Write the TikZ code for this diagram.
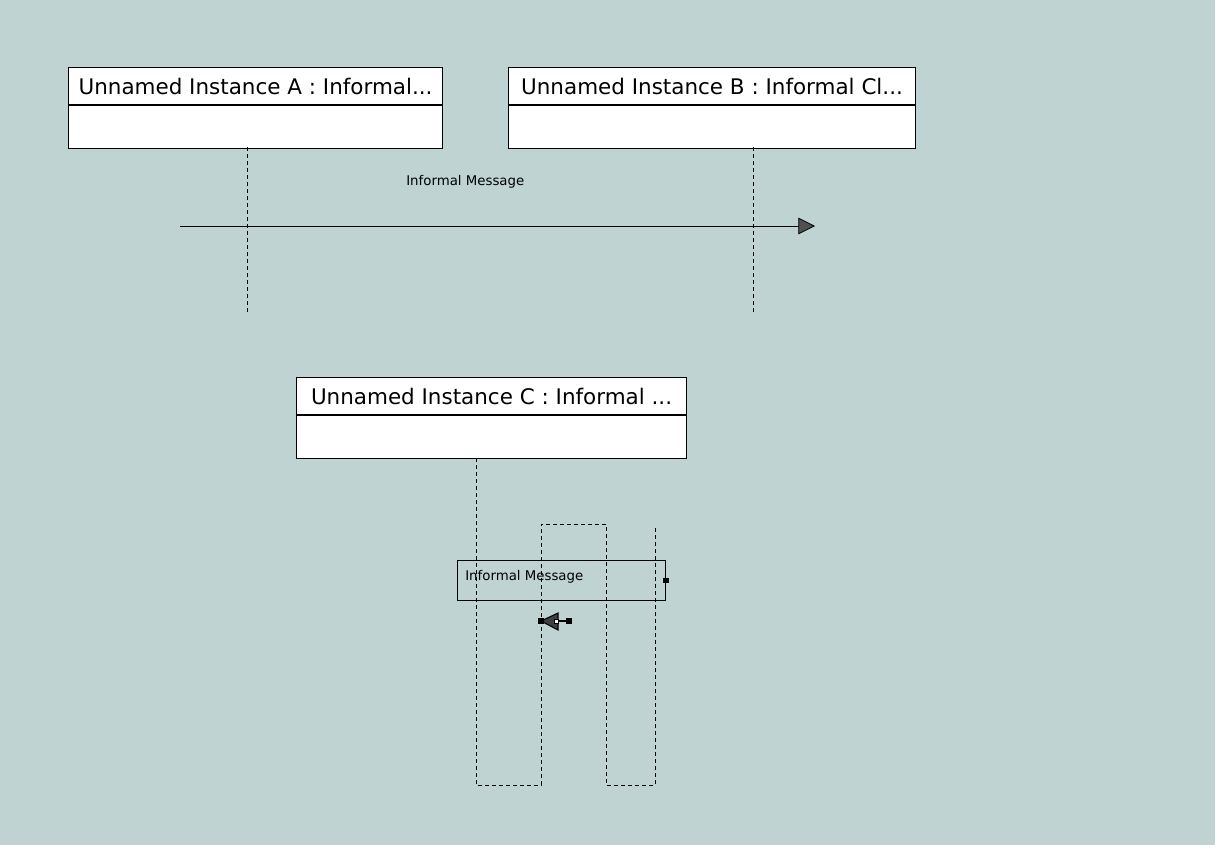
\documentclass[tikz,border=0pt]{standalone}
\usepackage{fontspec}
\setmainfont{DejaVu Sans}
\usetikzlibrary{arrows.meta, positioning}
\definecolor{canvas}{RGB}{190,211,210}
\definecolor{tipgray}{RGB}{80,80,80}

\begin{document}
\begin{tikzpicture}[x=0.75pt, y=-0.75pt,
    headbox/.style={draw, fill=white, line width=0.8pt, minimum height=27.75pt,
        inner sep=0pt, font=\fontsize{16.1}{18}\selectfont},
    bodybox/.style={draw, fill=white, line width=0.8pt, minimum height=32.25pt, inner sep=0pt},
    lifeline/.style={dash pattern=on 3pt off 2.25pt, line width=0.6pt},
    msgtext/.style={font=\fontsize{10}{12}\selectfont, anchor=west, inner sep=0pt},
    handle/.style={draw=black, fill=black, minimum size=3.5pt, inner sep=0pt}]

    % Canvas and margins
    \useasboundingbox (0,0) rectangle (1231,861);
    \fill[white] (0,0) rectangle (1231,861);
    \fill[canvas] (0,0) rectangle (1215,845);

    % Instance boxes
    \node[headbox, anchor=north west, minimum width=280.5pt] (headA) at (68,67) {Unnamed Instance A : Informal...};
    \node[bodybox, below=0pt of headA, minimum width=280.5pt] (bodyA) {};
    \node[headbox, anchor=north west, minimum width=305.25pt] (headB) at (508,67) {Unnamed Instance B : Informal Cl...};
    \node[bodybox, below=0pt of headB, minimum width=305.25pt] (bodyB) {};
    \node[headbox, anchor=north west, minimum width=292.5pt] (headC) at (296,377) {Unnamed Instance C : Informal ...};
    \node[bodybox, below=0pt of headC, minimum width=292.5pt] (bodyC) {};

    % Lifelines
    \coordinate (lifeAtop) at (247,147);
    \coordinate (lifeAend) at (247,312);
    \coordinate (lifeBtop) at (753,147);
    \coordinate (lifeBend) at (753,312);
    \draw[lifeline] (lifeAtop) -- (lifeAend);
    \draw[lifeline] (lifeBtop) -- (lifeBend);

    % Message from A to B
    \coordinate (msgfrom) at (180,226);
    \coordinate (msgto) at (815,226);
    \node[msgtext] (msglabel) at (406,182) {Informal Message};
    \draw[line width=0.6pt, -{Triangle[length=12.5pt, width=12.5pt, fill=tipgray]}] (msgfrom) -- (msgto);

    % Lifeline of C, folded
    \coordinate (lifeCtop) at (476,458);
    \draw[lifeline] (lifeCtop) -- (476,785) -- (541,785) -- (541,524) -- (606,524)
        -- (606,785) -- (655,785) -- (655,527);

    % Message box on C
    \node[draw, line width=0.6pt, anchor=north west, minimum width=156pt, minimum height=30pt,
        inner sep=0pt] (msgbox) at (457,560) {};
    \node[msgtext] (msgboxlabel) at (465,577) {Informal Message};
    \node[handle] (boxhandle) at (msgbox.east) {};

    % Small arrow with its handles
    \coordinate (tiptip) at (541,621);
    \coordinate (tipend) at (569,621);
    \draw[line width=1.5pt] (tipend) -- (556,621);
    \fill[tipgray!80!black, draw=black, line width=0.8pt] (tiptip) -- (558,613) -- (558,630) -- cycle;
    \node[handle] (handleA) at (tiptip) {};
    \node[handle] (handleB) at (tipend) {};
    \node[handle, fill=white, minimum size=3pt, line width=0.6pt] (handleC) at (556,621) {};
\end{tikzpicture}
\end{document}
